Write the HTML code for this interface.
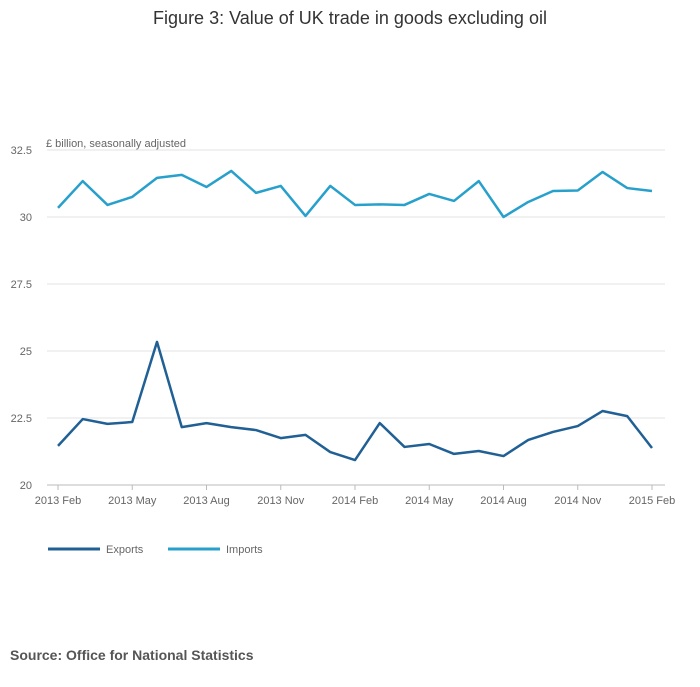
<!DOCTYPE html>
<html><head><meta charset="utf-8"><style>
body{margin:0;background:#fff;font-family:"Liberation Sans",sans-serif;}
svg text{font-family:"Liberation Sans",sans-serif;}
</style></head><body>
<svg width="700" height="682">
<text x="350" y="24" text-anchor="middle" font-size="18" fill="#333">Figure 3: Value of UK trade in goods excluding oil</text>
<text x="46" y="147" font-size="11" fill="#666">£ billion, seasonally adjusted</text>
<g id="grid"></g><g id="series"></g>
<g>
<line x1="48" y1="549" x2="100" y2="549" stroke="#206095" stroke-width="3"/>
<text x="106" y="553" font-size="11" fill="#666">Exports</text>
<line x1="168" y1="549" x2="220" y2="549" stroke="#27a0cc" stroke-width="3"/>
<text x="226" y="553" font-size="11" fill="#666">Imports</text>
</g>
<text x="10" y="660" font-size="14" font-weight="bold" fill="#555">Source: Office for National Statistics</text>
</svg>
<script>
const months=25;
const xTickLabels=["2013 Feb","2013 May","2013 Aug","2013 Nov","2014 Feb","2014 May","2014 Aug","2014 Nov","2015 Feb"];
const yTicks=[20,22.5,25,27.5,30,32.5];
const exportsData=[21.46,22.46,22.28,22.35,25.34,22.16,22.31,22.16,22.05,21.75,21.87,21.23,20.93,22.31,21.42,21.53,21.16,21.27,21.08,21.68,21.98,22.20,22.76,22.57,21.38];
const importsData=[30.34,31.34,30.45,30.75,31.46,31.57,31.12,31.72,30.90,31.16,30.04,31.16,30.45,30.47,30.45,30.86,30.60,31.34,30.0,30.56,30.97,30.99,31.68,31.08,30.97];
const NS="http://www.w3.org/2000/svg";
const x=i=>58+i*(652-58)/(months-1);
const y=v=>485-(v-20)*(335/12.5);
const grid=document.getElementById('grid'),ser=document.getElementById('series');
function mk(tag,attrs,parent){const e=document.createElementNS(NS,tag);for(const k in attrs)e.setAttribute(k,attrs[k]);parent.appendChild(e);return e;}
yTicks.forEach(v=>{
 const l=mk('line',{x1:47,x2:665,y1:y(v),y2:y(v),stroke:v===20?'#bbb':'#e3e3e3'},grid);
 
 
 const t=mk('text',{x:32,y:y(v)+4,'text-anchor':'end','font-size':11,fill:'#666'},grid);t.textContent=v;
 
 
});
xTickLabels.forEach((s,k)=>{
 const xx=x(k*3);
 const l=mk('line',{x1:xx,x2:xx,y1:485,y2:490,stroke:'#bbb'},grid);
 
 
 const t=mk('text',{x:xx,y:504,'text-anchor':'middle','font-size':11,fill:'#666'},grid);t.textContent=s;
 
 
});
function line(d,c,name){
 const p=mk('polyline',{points:d.map((v,i)=>x(i)+','+y(v)).join(' '),fill:'none',stroke:c,'stroke-width':2.5,'stroke-linejoin':'round'},ser);
 
 
}
line(importsData,'#27a0cc','imports-line');
line(exportsData,'#206095','exports-line');
</script>
</body></html>
